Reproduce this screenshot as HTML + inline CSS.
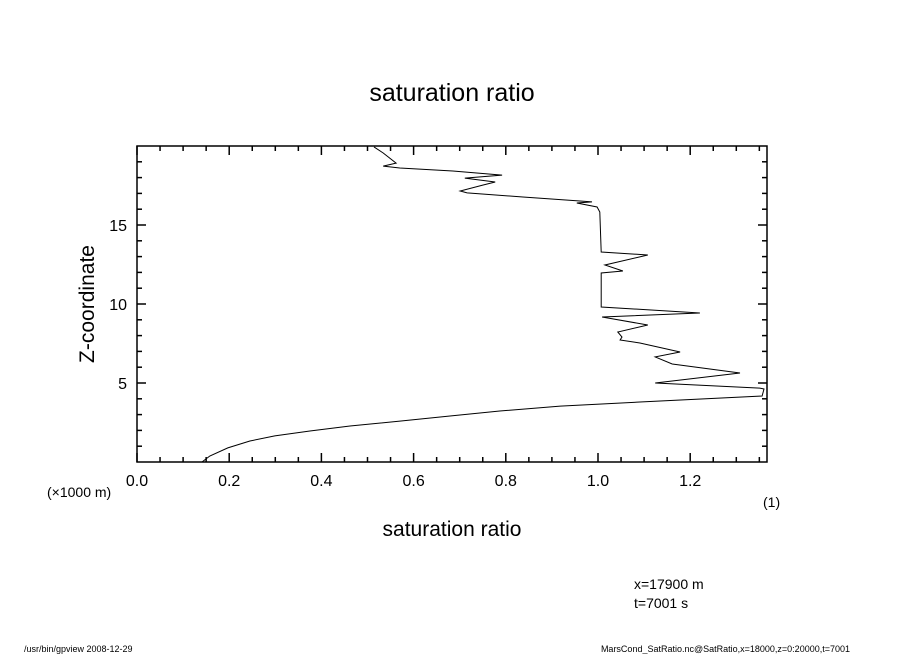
<!DOCTYPE html>
<html><head><meta charset="utf-8"><style>
body{margin:0;background:#fff;}
svg text{font-family:"Liberation Sans",sans-serif;fill:#000;}
</style></head><body>
<svg id="chart" width="904" height="654" xmlns="http://www.w3.org/2000/svg">
<text x="452" y="101" font-size="25" text-anchor="middle">saturation ratio</text>
<text x="452" y="536" font-size="21" text-anchor="middle">saturation ratio</text>
<text transform="translate(94,304) rotate(-90)" font-size="21" text-anchor="middle">Z-coordinate</text>
<text x="47" y="497" font-size="14">(×1000 m)</text>
<text x="763" y="507" font-size="14">(1)</text>
<text x="634" y="589" font-size="14">x=17900 m</text>
<text x="634" y="608" font-size="14">t=7001 s</text>
<text x="24" y="652" font-size="9">/usr/bin/gpview  2008-12-29</text>
<text x="850" y="652" font-size="9" text-anchor="end">MarsCond_SatRatio.nc@SatRatio,x=18000,z=0:20000,t=7001</text>
<g id="axes"></g>
<rect x="137" y="146" width="630" height="316" fill="none" stroke="#000" stroke-width="1.5"/>
<path id="line" fill="none" stroke="#000" stroke-width="1"/>
</svg>
<script>
const satRatio=[0.141,0.158,0.197,0.245,0.299,0.375,0.462,0.570,0.679,0.787,0.918,1.091,1.356,1.360,1.351,1.124,1.308,1.161,1.124,1.178,1.091,1.048,1.052,1.043,1.108,1.009,1.221,1.007,1.007,1.054,1.015,1.108,1.007,1.004,0.998,0.954,0.987,0.961,0.837,0.716,0.701,0.751,0.777,0.711,0.792,0.685,0.570,0.534,0.562,0.534,0.514];
const zCoord=[0.00,0.38,0.89,1.33,1.65,1.96,2.28,2.59,2.91,3.23,3.54,3.80,4.18,4.62,4.68,5.00,5.63,6.20,6.65,6.96,7.53,7.72,7.91,8.23,8.67,9.18,9.43,9.81,11.96,12.09,12.47,13.10,13.29,15.82,16.14,16.39,16.46,16.52,16.77,17.03,17.15,17.53,17.72,17.97,18.16,18.42,18.61,18.73,18.92,19.56,19.94];
const xTickLabels=["0.0","0.2","0.4","0.6","0.8","1.0","1.2"];
const yTickLabels=["5","10","15"];
const X0=137,X1=767,Y0=462,Y1=146,XMAX=1.3666,YMAX=20;
const sx=v=>X0+v/XMAX*(X1-X0);
const sy=v=>Y0-v/YMAX*(Y0-Y1);
const NS="http://www.w3.org/2000/svg";
const g=document.getElementById('axes');
function ln(x1,y1,x2,y2,name){const l=document.createElementNS(NS,'line');l.setAttribute('x1',x1);l.setAttribute('y1',y1);l.setAttribute('x2',x2);l.setAttribute('y2',y2);l.setAttribute('stroke','#000');l.setAttribute('stroke-width','1.5');


g.appendChild(l);}
for(let i=0;i*0.05<=XMAX+1e-9;i++){const v=i*0.05,x=sx(v),L=(i%4==0)?9:5;ln(x,Y0,x,Y0-L,'x-tick');ln(x,Y1,x,Y1+L,'x-tick-top');}
for(let i=1;i<YMAX;i++){const y=sy(i),L=(i%5==0)?9:5;ln(X0,y,X0+L,y,'y-tick');ln(X1,y,X1-L,y,'y-tick-right');}
xTickLabels.forEach(s=>{const t=document.createElementNS(NS,'text');t.setAttribute('x',sx(parseFloat(s)));t.setAttribute('y',486);t.setAttribute('font-size','16');t.setAttribute('text-anchor','middle');t.textContent=s;


document.getElementById('chart').appendChild(t);});
yTickLabels.forEach(s=>{const t=document.createElementNS(NS,'text');t.setAttribute('x',127);t.setAttribute('y',sy(parseFloat(s))+6);t.setAttribute('font-size','16');t.setAttribute('text-anchor','end');t.textContent=s;


document.getElementById('chart').appendChild(t);});
document.getElementById('line').setAttribute('d',satRatio.map((v,i)=>(i?'L':'M')+sx(v).toFixed(1)+','+sy(zCoord[i]).toFixed(1)).join(''));
</script>
</body></html>
